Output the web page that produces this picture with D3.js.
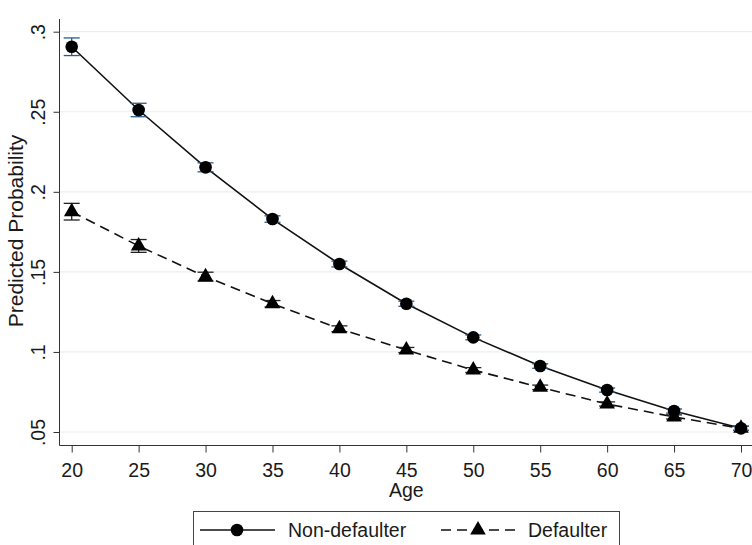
<!DOCTYPE html>
<html><head><meta charset="utf-8">
<script src="https://cdn.jsdelivr.net/npm/d3@7"></script>
<style>body{margin:0;background:#fff}svg{display:block;font-family:"Liberation Sans",Arial,sans-serif}</style>
</head><body><svg id="c" width="752" height="545"></svg>
<script>
const ages = [20,25,30,35,40,45,50,55,60,65,70];
const nonDefaulter = [0.2906,0.2511,0.2153,0.1830,0.1549,0.1301,0.1091,0.0912,0.0762,0.0631,0.0523];
const nonDefaulterCI = [0.0055,0.0042,0.0028,0.0020,0.0018,0.0016,0.0015,0.0014,0.0013,0.0013,0.0013];
const defaulter = [0.1876,0.1662,0.1470,0.1301,0.1145,0.1012,0.0887,0.0779,0.0675,0.0594,0.0523];
const defaulterCI = [0.0052,0.0040,0.0028,0.0020,0.0018,0.0016,0.0015,0.0014,0.0013,0.0013,0.0013];
const yTicks = [0.05,0.1,0.15,0.2,0.25,0.3];
const yTickLabels = [".05",".1",".15",".2",".25",".3"];
const xTicks = [20,25,30,35,40,45,50,55,60,65,70];

const svg = d3.select("#c");
const x = d3.scaleLinear().domain([20,70]).range([71.7,741]);
const y = d3.scaleLinear().domain([0.05,0.3]).range([432,31.7]);
const axX = 59.5, axY = 445.5;
const fs = 19.5;

// gridlines
svg.append("g").selectAll("line").data(yTicks).join("line")
  .attr("x1",axX).attr("x2",752).attr("y1",d=>y(d)).attr("y2",d=>y(d))
  .attr("stroke","#e8f0f2").attr("stroke-width",1.2);

// axes
const yAxis = d3.axisLeft(y).tickValues(yTicks).tickFormat((d,i)=>yTickLabels[i]).tickSize(6).tickSizeOuter(0);
const gy = svg.append("g").attr("transform",`translate(${axX},0)`).call(yAxis);
gy.select(".domain").attr("d",`M0,19V${axY}`).attr("stroke","#333");
gy.selectAll(".tick line").attr("stroke","#333");
gy.selectAll(".tick text").attr("font-size",fs).attr("fill","#1a1a1a")
  .attr("transform","rotate(-90)").attr("x",0).attr("y",-14.5).attr("dy","0")
  .attr("text-anchor","middle");

const xAxis = d3.axisBottom(x).tickValues(xTicks).tickFormat(d3.format("d")).tickSize(7).tickSizeOuter(0);
const gx = svg.append("g").attr("transform",`translate(0,${axY})`).call(xAxis);
gx.select(".domain").attr("d",`M${axX},0H752`).attr("stroke","#333");
gx.selectAll(".tick line").attr("stroke","#333");
gx.selectAll(".tick text").attr("font-size",fs).attr("fill","#1a1a1a").attr("y",31.5).attr("dy","0");

svg.append("text").attr("x",x(45)).attr("y",497).attr("text-anchor","middle")
  .attr("font-size",fs).attr("fill","#1a1a1a").text("Age");
svg.append("text").attr("transform","translate(23,231) rotate(-90)").attr("text-anchor","middle")
  .attr("font-size",21).attr("fill","#1a1a1a").text("Predicted Probability");

const line = d3.line().x((d,i)=>x(ages[i])).y(d=>y(d));

function series(vals, ci, dash, shape, ciColor){
  const g = svg.append("g");
  g.append("path").datum(vals).attr("d",line).attr("fill","none")
    .attr("stroke","#111").attr("stroke-width",1.6).attr("stroke-dasharray",dash);
  const eb = g.append("g").selectAll("g").data(vals).join("g");
  eb.append("line").attr("x1",(d,i)=>x(ages[i])).attr("x2",(d,i)=>x(ages[i]))
    .attr("y1",(d,i)=>y(d-ci[i])).attr("y2",(d,i)=>y(d+ci[i])).attr("stroke",ciColor).attr("stroke-width",1.3);
  [-1,1].forEach(s=>{
    eb.append("line").attr("x1",(d,i)=>x(ages[i])-8).attr("x2",(d,i)=>x(ages[i])+8)
      .attr("y1",(d,i)=>y(d+s*ci[i])).attr("y2",(d,i)=>y(d+s*ci[i])).attr("stroke",ciColor).attr("stroke-width",1.3);
  });
  g.append("g").selectAll("path").data(vals).join("path")
    .attr("d",d3.symbol().type(shape).size(shape===d3.symbolCircle?125:105))
    .attr("transform",(d,i)=>`translate(${x(ages[i])},${y(d)})`).attr("fill","#000");
}
series(defaulter, defaulterCI, "10,6", d3.symbolTriangle, "#222");
series(nonDefaulter, nonDefaulterCI, null, d3.symbolCircle, "#2d5a85");

// legend
const lg = svg.append("g");
lg.append("rect").attr("x",193.5).attr("y",511.5).attr("width",426).attr("height",60)
  .attr("fill","#fff").attr("stroke","#444").attr("stroke-width",1);
lg.append("line").attr("x1",200).attr("x2",275).attr("y1",530).attr("y2",530).attr("stroke","#111").attr("stroke-width",1.6);
lg.append("path").attr("d",d3.symbol().type(d3.symbolCircle).size(125)).attr("transform","translate(237,530)");
lg.append("text").attr("x",288).attr("y",537).attr("font-size",fs).attr("fill","#1a1a1a").text("Non-defaulter");
lg.append("line").attr("x1",441).attr("x2",517).attr("y1",530).attr("y2",530).attr("stroke","#111").attr("stroke-width",1.6).attr("stroke-dasharray","10,6");
lg.append("path").attr("d",d3.symbol().type(d3.symbolTriangle).size(105)).attr("transform","translate(478,530)");
lg.append("text").attr("x",528).attr("y",537).attr("font-size",fs).attr("fill","#1a1a1a").text("Defaulter");
</script></body></html>
